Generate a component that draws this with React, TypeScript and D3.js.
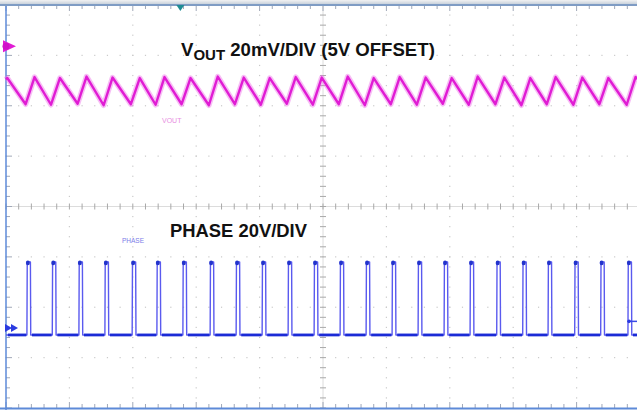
import React from "react";
import * as d3 from "d3";

const W = 637;
const H = 410;

// screen grid: 10 horizontal divisions, 8 vertical divisions
const xDivCount = 10;
const yDivRange = [-4, 4];

// PHASE pulse rising edges (divisions from left edge of screen)
const pulseStarts = [
  0.33, 0.73, 1.15, 1.56, 1.99, 2.38, 2.79, 3.22, 3.63, 4.04, 4.45, 4.86,
  5.27, 5.68, 6.09, 6.5, 6.91, 7.32, 7.74, 8.15, 8.55, 8.97, 9.38, 9.81,
];
const pulseWidth = 0.06;
const phaseLow = -2.55;
const phaseHigh = -1.1;

// VOUT ripple vertices (time in div, level in div)
const voutT = [
  0.0, 0.02, 0.31, 0.45, 0.71, 0.85, 1.13, 1.27, 1.54, 1.68, 1.97, 2.11, 2.36,
  2.5, 2.77, 2.91, 3.2, 3.34, 3.61, 3.75, 4.02, 4.16, 4.43, 4.57, 4.84, 4.98,
  5.25, 5.39, 5.66, 5.8, 6.07, 6.21, 6.48, 6.62, 6.89, 7.03, 7.3, 7.44, 7.72,
  7.86, 8.13, 8.27, 8.53, 8.67, 8.95, 9.09, 9.36, 9.5, 9.79, 9.93, 10.0,
];
const voutV = [
  2.52, 2.55, 2.03, 2.57, 2.02, 2.55, 2.04, 2.58, 2.01, 2.56, 2.03, 2.55, 2.02,
  2.57, 2.03, 2.55, 2.01, 2.58, 2.03, 2.56, 2.02, 2.55, 2.04, 2.57, 2.02, 2.56,
  2.03, 2.58, 2.01, 2.55, 2.03, 2.57, 2.02, 2.56, 2.04, 2.55, 2.02, 2.58, 2.03,
  2.56, 2.01, 2.55, 2.03, 2.57, 2.02, 2.56, 2.03, 2.55, 2.02, 2.57, 2.5,
];

const voutMarkerLevel = 3.18;
const phaseMarkerLevel = -2.41;
const triggerTime = 2.75;
const triggerLevel = -2.28;

const voutTitle = "V";
const voutSub = "OUT";
const voutTitleRest = " 20mV/DIV (5V OFFSET)";
const phaseTitle = "PHASE 20V/DIV";
const voutLabel = "VOUT";
const phaseLabel = "PHASE";

export default function App() {
  const x = d3.scaleLinear().domain([0, xDivCount]).range([6, 640]);
  const y = d3.scaleLinear().domain(yDivRange).range([408, 5]);

  const minorX = d3.range(0, xDivCount + 0.001, 0.2);
  const minorY = d3.range(yDivRange[0], yDivRange[1] + 0.001, 0.2);
  const majorX = d3.range(1, xDivCount);
  const majorY = d3.range(yDivRange[0] + 1, yDivRange[1]);

  const line = d3
    .line<[number, number]>()
    .x((d) => x(d[0]))
    .y((d) => y(d[1]));

  const voutPts: [number, number][] = voutT.map((t, i) => [t, voutV[i]]);
  const voutPath = line(voutPts) || "";

  // phase path
  const phasePts: [number, number][] = [[0, phaseLow]];
  pulseStarts.forEach((s) => {
    phasePts.push([s, phaseLow]);
    phasePts.push([s + 0.005, phaseHigh]);
    phasePts.push([s + pulseWidth - 0.005, phaseHigh]);
    phasePts.push([s + pulseWidth, phaseLow]);
  });
  phasePts.push([10, phaseLow]);
  const phasePath = line(phasePts) || "";

  // baseline thick segments between pulses
  const baseSegs: [number, number][] = [];
  const edges = [-0.05, ...pulseStarts];
  edges.forEach((s, i) => {
    const start = s + pulseWidth + 0.02;
    const end = i + 1 < edges.length ? edges[i + 1] - 0.01 : 10;
    if (end > start) baseSegs.push([Math.max(start, 0), end]);
  });

  const fontFam = "'Liberation Sans', Arial, Helvetica, sans-serif";

  return (
    <svg
      width={W}
      height={H}
      style={{ position: "absolute", left: 0, top: 0, background: "#fff" }}
    >
      <defs>
        <linearGradient id="topg" x1="0" y1="0" x2="0" y2="1">
          <stop offset="0" stopColor="#f2f2f2" />
          <stop offset="1" stopColor="#c9d2dc" />
        </linearGradient>
      </defs>
      <rect x={0} y={0} width={W} height={H} fill="#fff" />
      <rect x={0} y={0} width={W} height={4} fill="url(#topg)" />

      {/* dotted grid */}
      {majorX
        .filter((k) => k !== 5)
        .map((k) =>
          minorY.map((v, j) => (
            <rect
              key={`gx${k}-${j}`}
              x={x(k) - 0.6}
              y={y(v) - 0.6}
              width={1.2}
              height={1.2}
              fill="#cacaca"
            />
          ))
        )}
      {majorY
        .filter((k) => k !== 0)
        .map((k) =>
          minorX.map((v, j) => (
            <rect
              key={`gy${k}-${j}`}
              x={x(v) - 0.6}
              y={y(k) - 0.6}
              width={1.2}
              height={1.2}
              fill="#cacaca"
            />
          ))
        )}

      {/* center lines */}
      <line x1={x(5)} x2={x(5)} y1={y(4)} y2={y(-4)} stroke="#dcdcdc" strokeWidth={1} />
      <line x1={x(0)} x2={x(10)} y1={y(0)} y2={y(0)} stroke="#dcdcdc" strokeWidth={1} />
      {minorY.map((v, i) => (
        <line
          key={`cty${i}`}
          x1={x(5) - 3}
          x2={x(5) + 3}
          y1={y(v)}
          y2={y(v)}
          stroke="#a8a8a8"
          strokeWidth={1}
        />
      ))}
      {minorX.map((v, i) => (
        <line
          key={`ctx${i}`}
          x1={x(v)}
          x2={x(v)}
          y1={y(0) - 3}
          y2={y(0) + 3}
          stroke="#a8a8a8"
          strokeWidth={1}
        />
      ))}

      {/* border ticks */}
      {minorY.map((v, i) => {
        const major = Math.abs(v - Math.round(v)) < 0.01;
        return (
          <line
            key={`lt${i}`}
            x1={x(0)}
            x2={x(0) + (major ? 6 : 4)}
            y1={y(v)}
            y2={y(v)}
            stroke="#a0a8b8"
            strokeWidth={1}
          />
        );
      })}
      {minorX.map((v, i) => {
        const major = Math.abs(v - Math.round(v)) < 0.01;
        return (
          <g key={`bt${i}`}>
            <line
              x1={x(v)}
              x2={x(v)}
              y1={y(-4)}
              y2={y(-4) - (major ? 6 : 4)}
              stroke="#a0a8b8"
              strokeWidth={1}
            />
            <line
              x1={x(v)}
              x2={x(v)}
              y1={y(4)}
              y2={y(4) + (major ? 6 : 4)}
              stroke="#a0a8b8"
              strokeWidth={1}
            />
          </g>
        );
      })}

      {/* borders */}
      <line x1={x(0)} x2={x(0)} y1={y(4)} y2={H} stroke="#5d8ad8" strokeWidth={1.5} />
      <line x1={0} x2={W} y1={y(-4) + 0.5} y2={y(-4) + 0.5} stroke="#5d8ad8" strokeWidth={2} />
      <line x1={0} x2={W} y1={y(4)} y2={y(4)} stroke="#7f9cc4" strokeWidth={2} />

      {/* VOUT trace */}
      <path d={voutPath} fill="none" stroke="#ee6ee8" strokeOpacity={0.45} strokeWidth={5.5} strokeLinejoin="round" />
      <path d={voutPath} fill="none" stroke="#e01cd4" strokeWidth={2.4} strokeLinejoin="round" />

      {/* PHASE trace */}
      <path d={phasePath} fill="none" stroke="#5a5aef" strokeWidth={1.4} strokeLinejoin="round" />
      {baseSegs.map((s, i) => (
        <line
          key={`bs${i}`}
          x1={x(s[0])}
          x2={x(s[1])}
          y1={y(phaseLow)}
          y2={y(phaseLow)}
          stroke="#1b2bd6"
          strokeWidth={2.8}
        />
      ))}
      {pulseStarts.map((s, i) => (
        <ellipse
          key={`pt${i}`}
          cx={x(s + 0.015)}
          cy={y(phaseHigh) + 1}
          rx={2}
          ry={2.4}
          fill="#2233cc"
        />
      ))}

      {/* markers */}
      <path
        d={`M${x(0) - 3},${y(voutMarkerLevel) - 6} L${x(0) + 10},${y(voutMarkerLevel)} L${x(0) - 3},${y(voutMarkerLevel) + 6} Z`}
        fill="#e01cd4"
      />
      <circle cx={x(0)} cy={y(voutMarkerLevel)} r={3.5} fill="#d010c8" />
      <path
        d={`M${x(0) - 1},${y(phaseMarkerLevel) - 4} L${x(0) + 6},${y(phaseMarkerLevel)} L${x(0) - 1},${y(phaseMarkerLevel) + 4} Z`}
        fill="#2a3ae0"
      />
      <path
        d={`M${x(0) + 5},${y(phaseMarkerLevel) - 4} L${x(0) + 12},${y(phaseMarkerLevel)} L${x(0) + 5},${y(phaseMarkerLevel) + 4} Z`}
        fill="#2a3ae0"
      />
      <path
        d={`M${x(triggerTime) - 4},${y(4)} L${x(triggerTime) + 4},${y(4)} L${x(triggerTime)},${y(4) + 6} Z`}
        fill="#1f8c94"
      />
      <line x1={x(10) - 12} x2={W} y1={y(triggerLevel)} y2={y(triggerLevel)} stroke="#3a4ae6" strokeWidth={1.5} />
      <circle cx={x(10) - 11} cy={y(triggerLevel)} r={1.8} fill="#2a3ae0" />

      {/* small channel labels */}
      <text x={162} y={123} fontFamily={fontFam} fontSize={7} fill="#e88ee2">
        {voutLabel}
      </text>
      <text x={122} y={243} fontFamily={fontFam} fontSize={6.5} fill="#7c7ce8">
        {phaseLabel}
      </text>

      {/* titles */}
      <text x={181} y={56} fontFamily={fontFam} fontSize={18.6} fontWeight="bold" fill="#111">
        {voutTitle}
        <tspan fontSize={15} dy={3.6}>
          {voutSub}
        </tspan>
        <tspan fontSize={18.6} dy={-3.6}>
          {voutTitleRest}
        </tspan>
      </text>
      <text x={170} y={237} fontFamily={fontFam} fontSize={18.4} fontWeight="bold" fill="#111">
        {phaseTitle}
      </text>
    </svg>
  );
}
